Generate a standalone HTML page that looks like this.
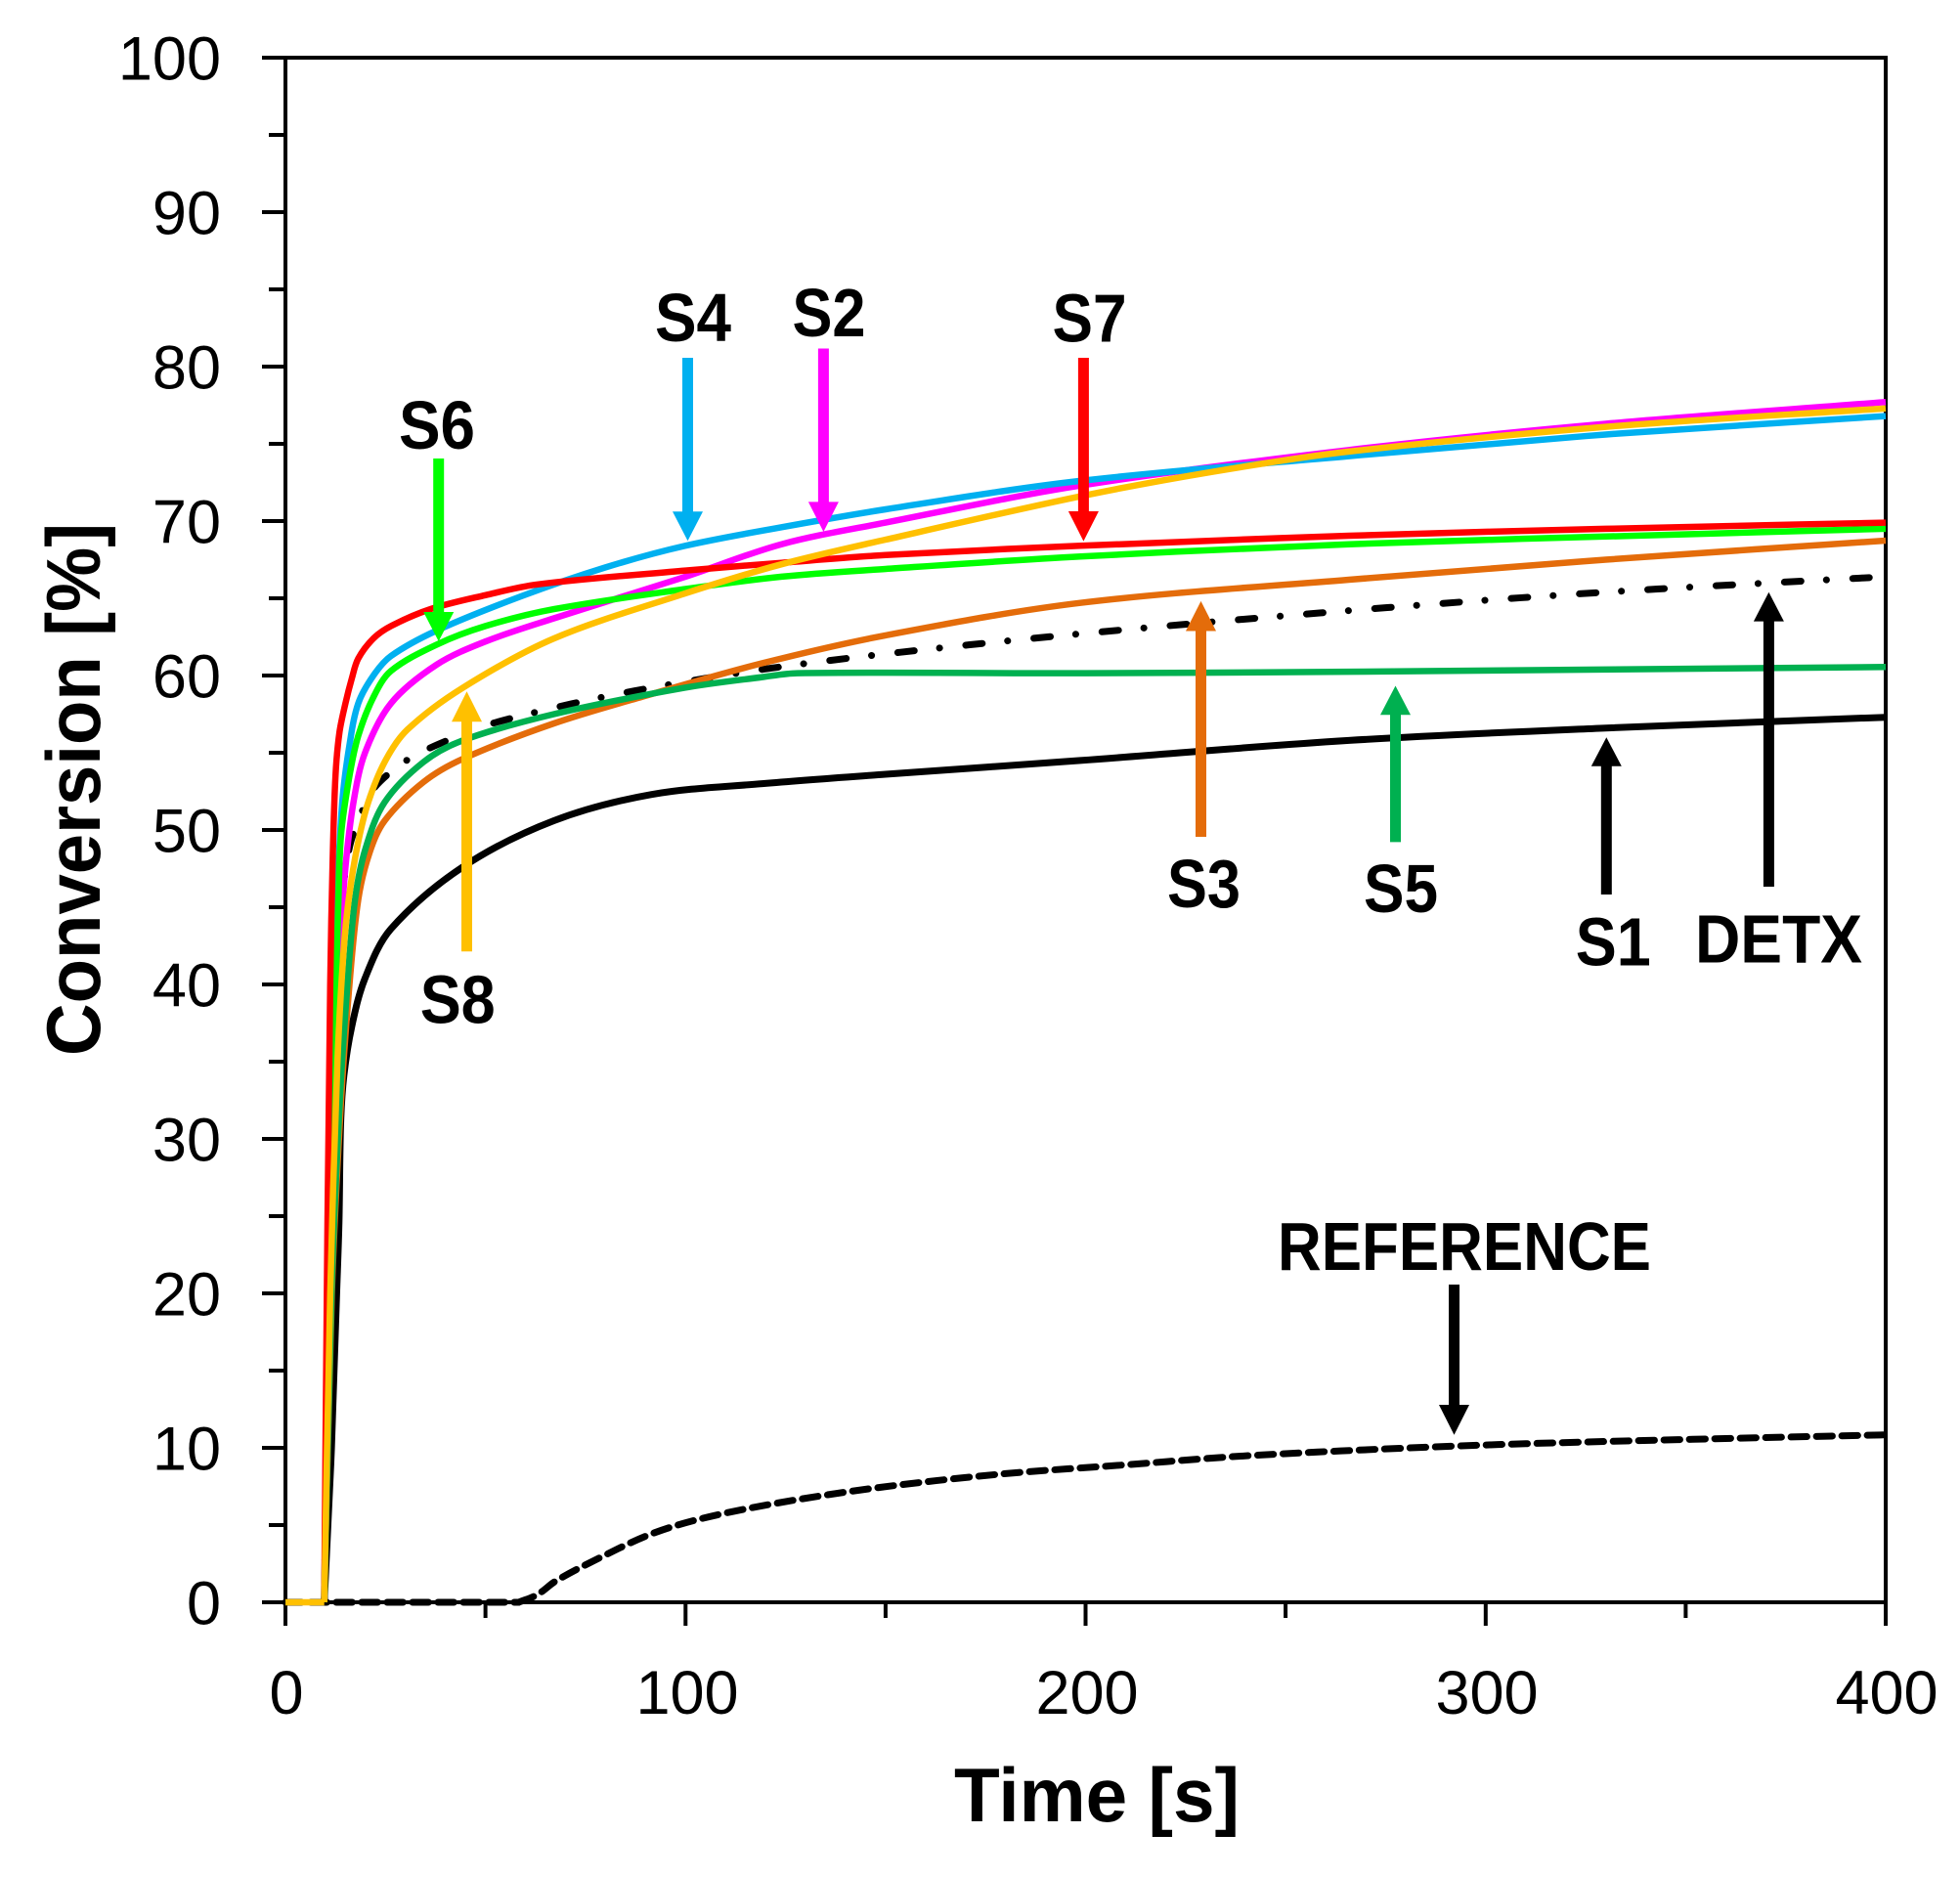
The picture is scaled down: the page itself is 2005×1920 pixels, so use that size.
<!DOCTYPE html>
<html>
<head>
<meta charset="utf-8">
<style>
html,body{margin:0;padding:0;background:#fff;}
svg{display:block;}
text{font-family:"Liberation Sans",Arial,sans-serif;}
.tk{font-size:63px;fill:#000;}
.lb{font-size:70px;font-weight:bold;fill:#000;}
.ax{font-size:78px;font-weight:bold;fill:#000;}
</style>
</head>
<body>
<svg id="chart" width="2005" height="1920" viewBox="0 0 2005 1920" xmlns="http://www.w3.org/2000/svg">
<rect x="0" y="0" width="2005" height="1920" fill="#fff"/>

<!-- axes frame -->
<rect x="292" y="59" width="1637" height="1580" fill="none" stroke="#000" stroke-width="4"/>

<!-- y ticks -->
<g stroke="#000" stroke-width="4">
<line x1="268" y1="1639" x2="292" y2="1639"/>
<line x1="268" y1="1481" x2="292" y2="1481"/>
<line x1="268" y1="1323" x2="292" y2="1323"/>
<line x1="268" y1="1165" x2="292" y2="1165"/>
<line x1="268" y1="1007" x2="292" y2="1007"/>
<line x1="268" y1="849" x2="292" y2="849"/>
<line x1="268" y1="691" x2="292" y2="691"/>
<line x1="268" y1="533" x2="292" y2="533"/>
<line x1="268" y1="375" x2="292" y2="375"/>
<line x1="268" y1="217" x2="292" y2="217"/>
<line x1="268" y1="59" x2="292" y2="59"/>
<line x1="275" y1="1560" x2="292" y2="1560"/>
<line x1="275" y1="1402" x2="292" y2="1402"/>
<line x1="275" y1="1244" x2="292" y2="1244"/>
<line x1="275" y1="1086" x2="292" y2="1086"/>
<line x1="275" y1="928" x2="292" y2="928"/>
<line x1="275" y1="770" x2="292" y2="770"/>
<line x1="275" y1="612" x2="292" y2="612"/>
<line x1="275" y1="454" x2="292" y2="454"/>
<line x1="275" y1="296" x2="292" y2="296"/>
<line x1="275" y1="138" x2="292" y2="138"/>
<!-- x ticks -->
<line x1="292" y1="1639" x2="292" y2="1663"/>
<line x1="701.3" y1="1639" x2="701.3" y2="1663"/>
<line x1="1110.5" y1="1639" x2="1110.5" y2="1663"/>
<line x1="1519.8" y1="1639" x2="1519.8" y2="1663"/>
<line x1="1929" y1="1639" x2="1929" y2="1663"/>
<line x1="496.6" y1="1639" x2="496.6" y2="1655"/>
<line x1="905.9" y1="1639" x2="905.9" y2="1655"/>
<line x1="1315.1" y1="1639" x2="1315.1" y2="1655"/>
<line x1="1724.4" y1="1639" x2="1724.4" y2="1655"/>
</g>

<!-- y tick labels -->
<g class="tk" text-anchor="end">
<text x="226" y="1661.5">0</text>
<text x="226" y="1503.5">10</text>
<text x="226" y="1345.5">20</text>
<text x="226" y="1187.5">30</text>
<text x="226" y="1029.5">40</text>
<text x="226" y="871.5">50</text>
<text x="226" y="713.5">60</text>
<text x="226" y="555.5">70</text>
<text x="226" y="397.5">80</text>
<text x="226" y="239.5">90</text>
<text x="226" y="81.5">100</text>
</g>
<!-- x tick labels -->
<g class="tk" text-anchor="middle">
<text x="293" y="1753">0</text>
<text x="703" y="1753">100</text>
<text x="1112" y="1753">200</text>
<text x="1521" y="1753">300</text>
<text x="1930" y="1753">400</text>
</g>

<!-- axis titles -->
<text class="ax" x="1122" y="1863" text-anchor="middle" textLength="292" lengthAdjust="spacingAndGlyphs">Time [s]</text>
<text class="ax" transform="translate(102,807.5) rotate(-90)" x="0" y="0" text-anchor="middle" textLength="545" lengthAdjust="spacingAndGlyphs">Conversion [%]</text>

<!-- curves -->
<g fill="none" stroke-linejoin="round">
<!-- REFERENCE -->
<polyline stroke="#000" stroke-width="7" stroke-linecap="round" stroke-dasharray="16.3 9.7"
points="292,1639 530.6,1639"/>
<polyline stroke="#000" stroke-width="7" stroke-linecap="round" stroke-dasharray="16.3 9.7"
points="530.6,1639 549.8,1631.1 569.1,1616.9 614.1,1593.2 665.2,1569.5 716.4,1553.7 792.9,1537.9 895.2,1522.1 1023.3,1507.9 1151,1498.4 1279.1,1488.9 1483.7,1479.4 1661.8,1474 1929,1467.7"/>
<!-- DETX -->
<polyline stroke="#000" stroke-width="7" stroke-linecap="round" stroke-dasharray="17 26 0.1 26.9"
points="331.7,1639 337,1323 343.2,1086 351.8,904.3 358.3,863.2 368.1,836.4 380,809.5 406.6,784.2 433.2,768.4 461.4,755.8 493.4,743.1 553.1,727.3 616.5,713.1 683.3,700.5 779.8,684.7 905.9,668.9 1105.2,648.3 1379.8,624.6 1642.5,605.7 1929,589.9"/>
<!-- S1 -->
<polyline stroke="#000" stroke-width="7"
points="331.7,1639 339.1,1481 344.4,1323 346.8,1250.3 348.5,1149.2 351.8,1100.2 359.9,1049.7 373.4,1000.7 400,950.1 473.3,886.9 566.6,839.5 666.5,812.7 779.8,801.6 905.9,792 1105.2,777.9 1379.8,757.4 1642.5,744.7 1929,733.7"/>
<!-- S2 magenta -->
<polyline stroke="#FF00FF" stroke-width="6.5"
points="331.7,1639 337,1323 343.2,1086 348.5,959.6 353.4,886.9 361.6,820.6 373.4,770 400,719.4 446.7,679.9 496.6,656.2 566.6,632.5 701.3,589.9 799.5,556.7 905.9,534.6 1105.2,496.7 1379.8,460.3 1642.5,433.5 1929,411.3"/>
<!-- S3 orange -->
<polyline stroke="#E46C0A" stroke-width="6.5"
points="331.7,1639 339.5,1323 348.5,1133.4 357.5,1007 366.5,920.1 377.9,872.7 393.5,839.5 433.2,800 473.3,776.3 566.6,740 666.5,710 779.8,678.4 905.9,649.9 1105.2,616.7 1379.8,593 1642.5,572.5 1929,553"/>
<!-- S4 cyan -->
<polyline stroke="#00B0F0" stroke-width="6.5"
points="331.7,1639 335.8,1323 340.3,1038.6 344.4,928 350.1,820.6 357.5,762.1 366.5,719.4 382,691 400,671 446.7,645 533,610 619.4,580.4 700,558.5 799.5,539.3 905.9,521 1105.2,491.9 1379.8,466.6 1642.5,444.5 1929,425.6"/>
<!-- S5 dark green -->
<polyline stroke="#00B050" stroke-width="6.5"
points="331.7,1639 339.1,1323 347.2,1133.4 355.4,1007 363.2,920.1 373.9,868 393.5,820.6 433.2,779.5 473.3,757.4 566.6,730.5 700,703.6 779.8,692.6 815.8,688.6 1110.5,688.6 1379.8,687.1 1929,682.3"/>
<!-- S6 green -->
<polyline stroke="#00FF00" stroke-width="6.5"
points="331.7,1639 336.2,1323 341.1,1086 346,928 348.9,853.7 357.5,793.7 366.5,752.6 382,713.1 400,686.3 446.7,659.4 496.6,640.4 566.6,623.1 701.3,602.5 799.5,589.9 905.9,582 1105.2,569.3 1379.8,556.7 1642.5,548.8 1929,540.9"/>
<!-- S7 red -->
<polyline stroke="#FF0000" stroke-width="6.5"
points="331.7,1639 335,1250.3 337.8,1007 340.3,880.6 343.2,793.7 347.2,749.5 353.4,719.4 359.9,694 366.5,673.6 382,653.1 400,640.4 440.2,623.1 496.6,608.8 549.8,597.8 701.3,583.6 799.5,575.7 905.9,567.8 1105.2,558.3 1379.8,548 1642.5,540.9 1929,534.6"/>
<!-- S8 yellow -->
<polyline stroke="#FFC000" stroke-width="6.5"
points="292,1639 331.7,1639"/>
<polyline stroke="#FFC000" stroke-width="6.5"
points="331.7,1639 337.8,1323 345.2,1086 351.3,975.4 356.7,920.1 365.7,864.8 376.7,820.6 394.3,777.9 416.8,746.3 473.3,703.6 566.6,653.1 700,607.3 799.5,577.2 905.9,552 1105.2,507.7 1241.5,482.4 1379.8,461.9 1642.5,436.6 1929,417.7"/>
</g>

<!-- arrows -->
<g stroke-width="11">
<line x1="448.7" y1="469" x2="448.7" y2="628" stroke="#00FF00"/>
<polygon points="433.2,626 464.2,626 448.7,656" fill="#00FF00"/>
<line x1="703.5" y1="366" x2="703.5" y2="525" stroke="#00B0F0"/>
<polygon points="688,523.3 719,523.3 703.5,553.3" fill="#00B0F0"/>
<line x1="842.4" y1="356.5" x2="842.4" y2="515" stroke="#FF00FF"/>
<polygon points="826.9,513.4 857.9,513.4 842.4,544" fill="#FF00FF"/>
<line x1="1108.4" y1="366" x2="1108.4" y2="525" stroke="#FF0000"/>
<polygon points="1092.9,523 1123.9,523 1108.4,553.6" fill="#FF0000"/>
<line x1="477.5" y1="973.3" x2="477.5" y2="736" stroke="#FFC000"/>
<polygon points="462,738.3 493,738.3 477.5,707.3" fill="#FFC000"/>
<line x1="1228.5" y1="856" x2="1228.5" y2="643" stroke="#E46C0A"/>
<polygon points="1213,645.5 1244,645.5 1228.5,614.9" fill="#E46C0A"/>
<line x1="1427.5" y1="861.4" x2="1427.5" y2="729" stroke="#00B050"/>
<polygon points="1412,731.3 1443,731.3 1427.5,701.5" fill="#00B050"/>
<line x1="1643.3" y1="915" x2="1643.3" y2="781" stroke="#000"/>
<polygon points="1627.8,783.7 1658.8,783.7 1643.3,754.3" fill="#000"/>
<line x1="1809.4" y1="907" x2="1809.4" y2="633" stroke="#000"/>
<polygon points="1793.9,635.6 1824.9,635.6 1809.4,605.8" fill="#000"/>
<line x1="1487.5" y1="1314" x2="1487.5" y2="1439" stroke="#000"/>
<polygon points="1472,1437 1503,1437 1487.5,1467.7" fill="#000"/>
</g>

<!-- series labels -->
<text class="lb" x="408" y="459" textLength="78" lengthAdjust="spacingAndGlyphs">S6</text>
<text class="lb" x="670" y="349" textLength="78" lengthAdjust="spacingAndGlyphs">S4</text>
<text class="lb" x="810.5" y="344" textLength="75" lengthAdjust="spacingAndGlyphs">S2</text>
<text class="lb" x="1076.5" y="349.5" textLength="76" lengthAdjust="spacingAndGlyphs">S7</text>
<text class="lb" x="429.7" y="1046.5" textLength="77" lengthAdjust="spacingAndGlyphs">S8</text>
<text class="lb" x="1194" y="928" textLength="75" lengthAdjust="spacingAndGlyphs">S3</text>
<text class="lb" x="1395" y="933" textLength="76" lengthAdjust="spacingAndGlyphs">S5</text>
<text class="lb" x="1611.8" y="987.5" textLength="77" lengthAdjust="spacingAndGlyphs">S1</text>
<text class="lb" x="1734" y="984.5" textLength="171" lengthAdjust="spacingAndGlyphs">DETX</text>
<text class="lb" x="1307" y="1299" textLength="382" lengthAdjust="spacingAndGlyphs">REFERENCE</text>
</svg>
<script>
(function(){
  try{
    var NS="http://www.w3.org/2000/svg";
    var pls=document.querySelectorAll('#chart polyline');
    for(var i=0;i<pls.length;i++){
      var pl=pls[i];
      var raw=pl.getAttribute('points').trim().split(/\s+/);
      var a=[];
      for(var j=0;j<raw.length;j++){var q=raw[j].split(',');a.push([parseFloat(q[0]),parseFloat(q[1])]);}
      var n=a.length; if(n<3) continue;
      var L=[],k;
      for(k=0;k<n-1;k++){var dx=a[k+1][0]-a[k][0],dy=a[k+1][1]-a[k][1];L[k]=Math.sqrt(dx*dx+dy*dy)||1e-6;}
      var m=[];
      m[0]=[(a[1][0]-a[0][0])/L[0],(a[1][1]-a[0][1])/L[0]];
      m[n-1]=[(a[n-1][0]-a[n-2][0])/L[n-2],(a[n-1][1]-a[n-2][1])/L[n-2]];
      for(k=1;k<n-1;k++){
        var s=L[k-1]+L[k];
        m[k]=[(a[k+1][0]-a[k-1][0])/s,(a[k+1][1]-a[k-1][1])/s];
      }
      var d="M"+a[0][0]+" "+a[0][1];
      for(k=0;k<n-1;k++){
        var c=L[k]/3;
        d+=" C"+(a[k][0]+m[k][0]*c).toFixed(2)+" "+(a[k][1]+m[k][1]*c).toFixed(2)+" "+
            (a[k+1][0]-m[k+1][0]*c).toFixed(2)+" "+(a[k+1][1]-m[k+1][1]*c).toFixed(2)+" "+
            a[k+1][0]+" "+a[k+1][1];
      }
      var p=document.createElementNS(NS,'path');
      for(var t=0;t<pl.attributes.length;t++){
        var at=pl.attributes[t];
        if(at.name!=='points') p.setAttribute(at.name,at.value);
      }
      p.setAttribute('d',d);
      pl.parentNode.insertBefore(p,pl);
      pl.parentNode.removeChild(pl);
    }
  }catch(e){}
})();
</script>
</body>
</html>
